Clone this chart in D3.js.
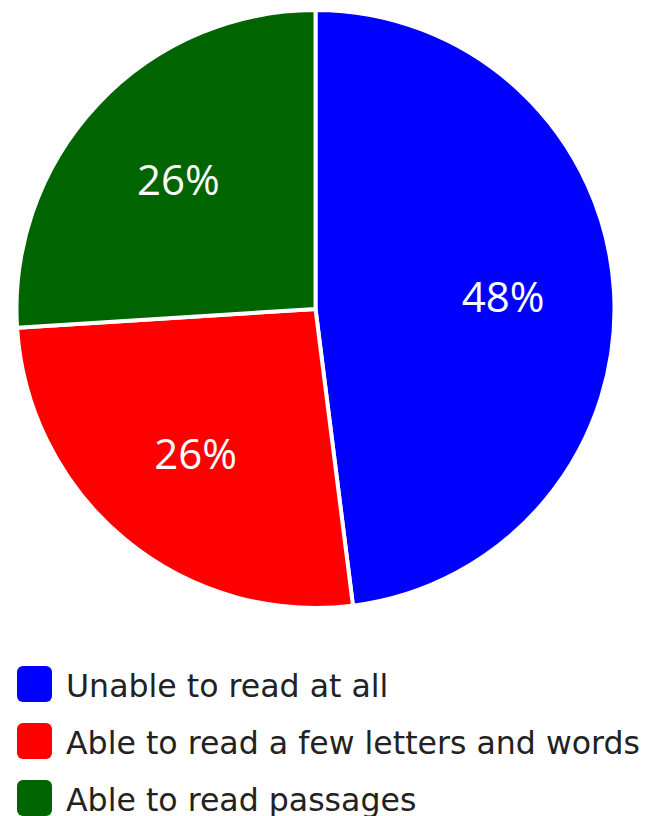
<!DOCTYPE html>
<html>
<head>
<meta charset="utf-8">
<script src="https://cdn.jsdelivr.net/npm/d3@7"></script>
<style>
body{margin:0;background:#fff;}
</style>
</head>
<body>
<div id="chart"></div>
<script>
var width=658;
var height=816;

var categories=['Unable to read at all','Able to read a few letters and words','Able to read passages'];
var values=[48,26,26];
var colors=['#0000ff','#ff0000','#006400'];

var svg=d3.select('#chart').append('svg').attr('width',width).attr('height',height);

var cx=315.5, cy=309, r=299;
var data=categories.map(function(c,i){return {name:c,value:values[i],color:colors[i]};});

var pie=d3.pie().value(function(d){return d.value;}).sort(null);
var arc=d3.arc().innerRadius(0).outerRadius(r);
var labelArc=d3.arc().innerRadius(188).outerRadius(188);

var g=svg.append('g').attr('transform','translate('+cx+','+cy+')');
var arcs=pie(data);

g.selectAll('path').data(arcs).enter().append('path')
	.attr('d',arc)
	.attr('fill',function(d){return d.data.color;})
	.attr('stroke','#fff')
	.attr('stroke-width',4)
	.attr('stroke-linejoin','round');

g.selectAll('text').data(arcs).enter().append('text')
	.attr('transform',function(d){return 'translate('+labelArc.centroid(d)+')';})
	.attr('text-anchor','middle')
	.attr('dy','0.36em')
	.attr('fill','#fff')
	.style('font-family','"Open Sans", sans-serif')
	.style('font-size','42px')
	.text(function(d){return d.data.value+'%';});

// legend
var legend=svg.append('g').attr('transform','translate(17,666)');
var rows=legend.selectAll('g').data(data).enter().append('g')
	.attr('transform',function(d,i){return 'translate(0,'+(i*57)+')';});
rows.append('rect')
	.attr('width',35).attr('height',36).attr('rx',6)
	.attr('fill',function(d){return d.color;});
var labels=rows.append('text')
	.attr('x',49).attr('y',31)
	.attr('fill','#222')
	.style('font-family','"DejaVu Sans", sans-serif')
	.style('font-size','32px')
	.text(function(d){return d.name;});

// fit the longest legend line to the reference width
var maxLen=d3.max(labels.nodes(),function(n){return n.getComputedTextLength();});
if(maxLen>574){
	labels.style('font-size',(32*574/maxLen)+'px');
}
</script>
</body>
</html>
